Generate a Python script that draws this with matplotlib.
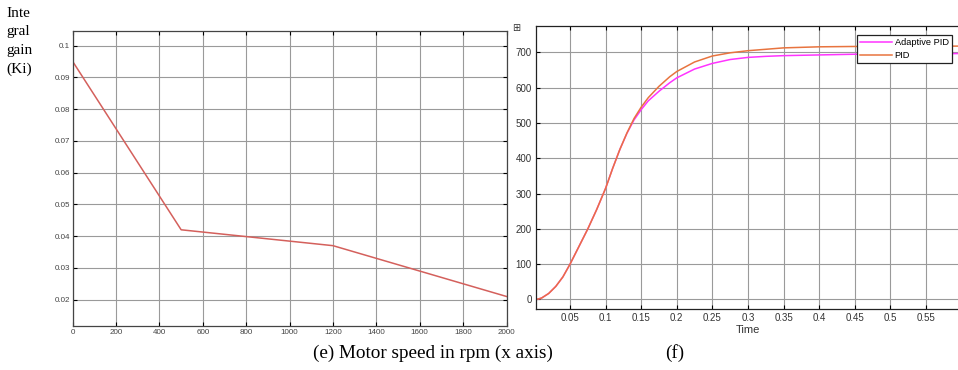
import matplotlib.pyplot as plt

# (e) integral gain vs motor speed
speed_rpm = [0, 500, 1200, 2000]
ki_gain = [0.095, 0.042, 0.037, 0.021]

# (f) speed response
t_pid = [0.003, 0.01, 0.02, 0.03, 0.04, 0.05, 0.0625, 0.075, 0.0875, 0.1, 0.11, 0.12, 0.13,
         0.14, 0.15, 0.16, 0.175, 0.19, 0.2, 0.225, 0.25, 0.275, 0.3, 0.325, 0.35, 0.4,
         0.45, 0.5, 0.55, 0.6]
y_pid = [0, 4, 17, 37, 64, 100, 150, 200, 255, 315, 372, 425, 472,
         513, 545, 572, 604, 631, 646, 673, 690, 699, 705, 709, 713, 716,
         717, 717, 718, 718]
t_apid = [0.003, 0.01, 0.02, 0.03, 0.04, 0.05, 0.0625, 0.075, 0.0875, 0.1, 0.11, 0.12, 0.13,
          0.14, 0.15, 0.16, 0.175, 0.19, 0.2, 0.225, 0.25, 0.275, 0.3, 0.325, 0.35, 0.4,
          0.45, 0.5, 0.55, 0.6]
y_apid = [0, 4, 17, 37, 64, 100, 150, 200, 255, 315, 372, 425, 471,
          509, 538, 563, 590, 614, 628, 653, 669, 680, 686, 689, 691, 693,
          695, 696, 696, 697]

x_ticks_e = list(range(0, 2001, 200))
y_ticks_e = [0.02, 0.03, 0.04, 0.05, 0.06, 0.07, 0.08, 0.09, 0.1]
x_ticks_f = [0.05, 0.1, 0.15, 0.2, 0.25, 0.3, 0.35, 0.4, 0.45, 0.5, 0.55]
y_ticks_f = [0, 100, 200, 300, 400, 500, 600, 700]

W, H = 958, 370
fig = plt.figure(figsize=(W / 100, H / 100), dpi=100)
serif = 'Liberation Serif'
sans = 'Liberation Sans'
grid_col = '#9a9a9a'

# left panel
ax1 = fig.add_axes([72.7 / W, 1 - 326 / H, 433.8 / W, 295.3 / H])
ax1.plot(speed_rpm, ki_gain, color='#d4605c', lw=1.1)
ax1.set_xlim(0, 2000)
ax1.set_ylim(0.0117, 0.1047)
ax1.set_xticks(x_ticks_e)
ax1.set_xticklabels([str(v) for v in x_ticks_e])
ax1.set_yticks(y_ticks_e)
ax1.set_yticklabels(['%g' % v for v in y_ticks_e])
ax1.grid(True, color=grid_col, lw=0.8)
ax1.tick_params(labelsize=5.8, labelcolor='#444444', direction='in', length=3,
                top=True, right=True, pad=2)
for lab in ax1.get_xticklabels() + ax1.get_yticklabels():
    lab.set_family(sans)
for s in ax1.spines.values():
    s.set_color('#444444')
    s.set_linewidth(0.9)

# right panel
ax2 = fig.add_axes([536 / W, 1 - 309 / H, 424 / W, 283 / H])
ax2.plot(t_apid, y_apid, color='#ff33ff', lw=1.1, label='Adaptive PID')
ax2.plot(t_pid, y_pid, color='#e8743f', lw=1.1, label='PID')
ax2.set_xlim(0.0022, 0.598)
ax2.set_ylim(-27, 775)
ax2.set_xticks(x_ticks_f)
ax2.set_xticklabels(['%g' % v for v in x_ticks_f])
ax2.set_yticks(y_ticks_f)
ax2.grid(True, color=grid_col, lw=0.8)
ax2.tick_params(labelsize=7, labelcolor='#333333', direction='in', length=3,
                top=True, pad=3)
for lab in ax2.get_xticklabels() + ax2.get_yticklabels():
    lab.set_family(sans)
ax2.spines['right'].set_visible(False)
for s in ax2.spines.values():
    s.set_color('#222222')
    s.set_linewidth(0.9)
ax2.set_xlabel('Time', fontsize=8, family=sans, color='#333333', labelpad=1)
leg = ax2.legend(loc='upper right', bbox_to_anchor=(952 / W, 1 - 35 / H),
                 bbox_transform=fig.transFigure,
                 prop={'family': sans, 'size': 6.7},
                 fancybox=False, framealpha=1, edgecolor='#222222',
                 handlelength=3.4, handletextpad=0.3, borderpad=0.35,
                 labelspacing=0.4, borderaxespad=0)
leg.get_frame().set_linewidth(0.9)

# small toolbar box near the right panel
fig.text(516 / W, 1 - 28 / H, '\u229e', fontsize=7, ha='center', va='center',
         family='DejaVu Sans', color='#333333')

# y label and captions
fig.text(6 / W, 1 - 7 / H, 'Inte\ngral\ngain\n(Ki)', fontsize=11, family=serif,
         ha='left', va='top', linespacing=1.55)
fig.text(313 / W, 1 - 358 / H, '(e) Motor speed in rpm (x axis)', fontsize=13.8,
         family=serif, ha='left', va='baseline')
fig.text(665 / W, 1 - 358 / H, '(f)', fontsize=13.8, family=serif,
         ha='left', va='baseline')

fig.savefig('out.png', dpi=100)
